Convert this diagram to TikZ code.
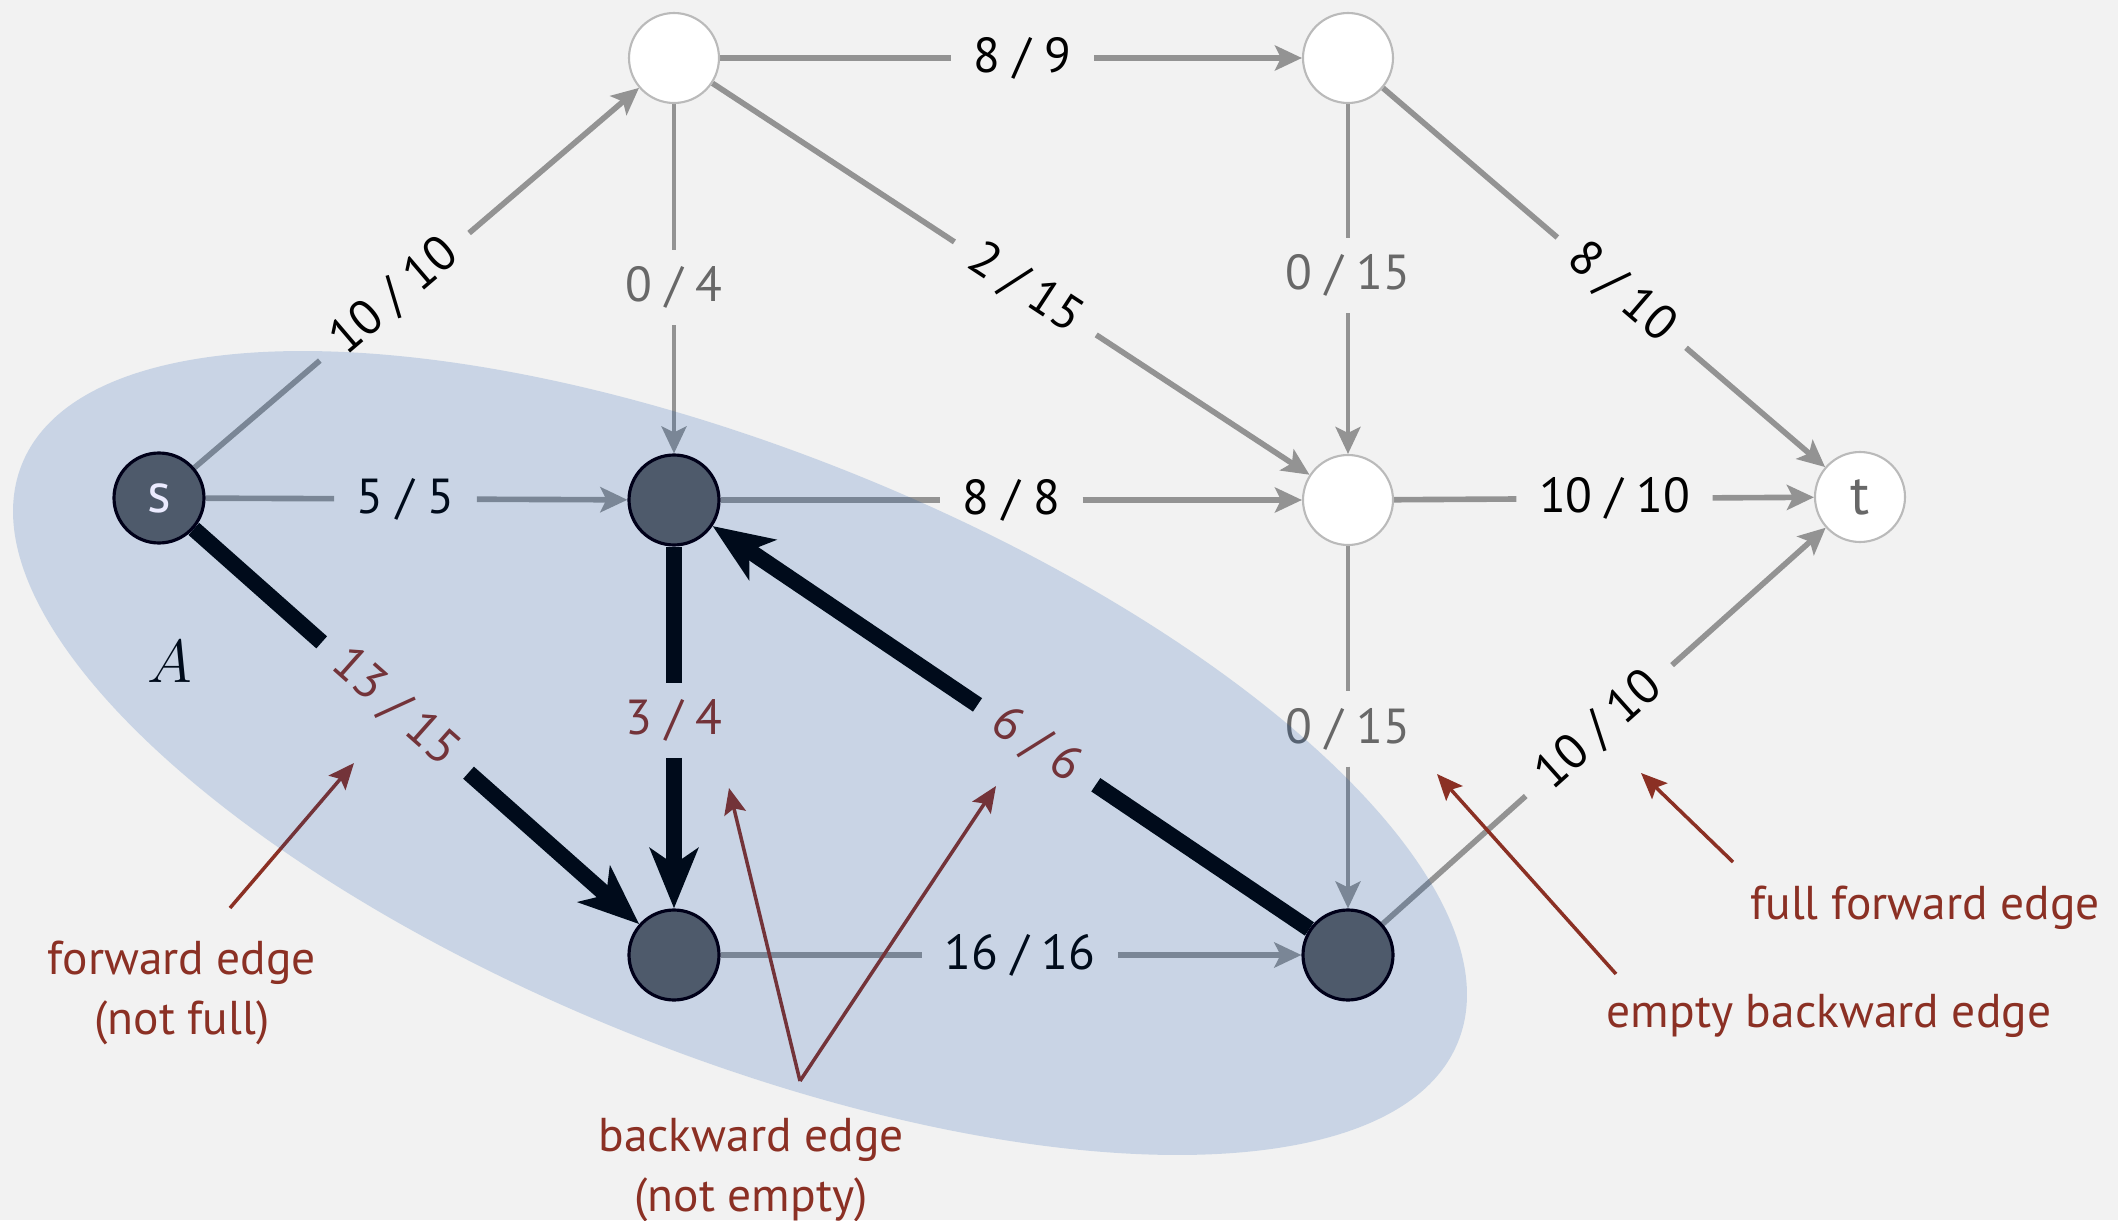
\documentclass[tikz,border=0pt]{standalone}
\usepackage{fontspec}
\setmainfont{PT Sans}
\usetikzlibrary{arrows.meta}

\definecolor{bgc}{HTML}{F2F2F2}
\definecolor{edgec}{HTML}{939393}
\definecolor{labred}{HTML}{8B3024}
\definecolor{labgray}{HTML}{686868}
\definecolor{darknode}{HTML}{4E5A6B}
\definecolor{cutblue}{RGB}{0,70,165}

\pgfdeclarelayer{bg}
\pgfdeclarelayer{shade}
\pgfdeclarelayer{fg}
\pgfsetlayers{bg,main,shade,fg}

\tikzset{
  vwhite/.style={circle, draw=black!27, fill=white, line width=0.6pt, minimum size=0.9cm, inner sep=0pt, text=labgray},
  vdark/.style={circle, draw=black!90!blue, fill=darknode, line width=0.9pt, minimum size=0.9cm, inner sep=0pt, text=blue!8!white},
  elab/.style={inner xsep=0.22cm, inner ysep=0.16cm, font=\fontsize{14}{16}\selectfont},
  flowline/.style={draw=edgec},
  gtip/.style={-{Stealth[length=2.7mm, width=2.5mm, inset=0.6mm]}},
  heavy/.style={draw=black, line width=4.6pt},
  heavytip/.style={-{Stealth[length=6mm, width=4.8mm, inset=1.6mm]}},
  note/.style={text=labred, align=center, font=\fontsize{13.5}{17}\selectfont},
  pointer/.style={draw=labred, line width=1pt, -{Stealth[length=2.6mm, width=2.2mm, inset=0.5mm]}},
}

\begin{document}
\begin{tikzpicture}
 \useasboundingbox (0,0) rectangle (21.18,12.2);
 \begin{pgfonlayer}{bg}
  \fill[bgc] (0,0) rectangle (21.18,12.2);
 \end{pgfonlayer}

 %vertices
 \begin{pgfonlayer}{fg}
  \node[vdark] (s) at (1.59,7.22) {\fontsize{16}{18}\selectfont s};
  \node[vwhite] (T1) at (6.74,11.62) {};
  \node[vwhite] (T2) at (13.48,11.62) {};
  \node[vdark] (M1) at (6.74,7.20) {};
  \node[vwhite] (M2) at (13.48,7.20) {};
  \node[vwhite] (t) at (18.60,7.23) {\fontsize{16}{18}\selectfont t};
  \node[vdark] (B1) at (6.74,2.65) {};
  \node[vdark] (B2) at (13.48,2.65) {};
 \end{pgfonlayer}

 %edges, label upright
 \foreach \a/\b/\p/\fl/\cp/\col/\w in {T1/T2/0.52/8/9/black/1.6, T1/M1/0.525/0/4/labgray/1.2,
     T2/M2/0.49/0/15/labgray/1.2, s/M1/0.474/5/5/black/1.6, M1/M2/0.50/8/8/black/1.6,
     M2/t/0.525/10/10/black/1.6, B1/B2/0.515/16/16/black/1.6, M2/B2/0.505/0/15/labgray/1.2} {
   \path (\a) -- node[elab, pos=\p, text=\col] (L\a\b) {\fl\ /\ \cp} (\b);
   \draw[flowline, line width=\w pt] (\a) -- (L\a\b);
   \draw[flowline, line width=\w pt, gtip] (L\a\b) -- (\b);
 }

 %edges, label along the edge
 \foreach \a/\b/\p/\fl/\cp in {s/T1/0.45/10/10, T1/M2/0.524/2/15, T2/t/0.54/8/10, B2/t/0.488/10/10} {
   \path (\a) -- node[elab, pos=\p, sloped] (L\a\b) {\fl\ /\ \cp} (\b);
   \draw[flowline, line width=1.6pt] (\a) -- (L\a\b);
   \draw[flowline, line width=1.6pt, gtip] (L\a\b) -- (\b);
 }

 %augmenting path
 \foreach \a/\b/\p/\fl/\cp/\sl in {s/B1/0.452/13/15/sloped, M1/B1/0.48/3/4/, B2/M1/0.457/6/6/sloped} {
   \path (\a) -- node[elab, pos=\p, \sl, text=labred] (L\a\b) {\fl\ /\ \cp} (\b);
   \draw[heavy] (\a) -- (L\a\b);
   \draw[heavy, heavytip] (L\a\b) -- (\b);
 }

 %cut
 \node (cutA) at (1.70,5.58) {\fontsize{17}{20}\selectfont $A$};
 \begin{pgfonlayer}{shade}
  \fill[cutblue, fill opacity=0.17, shift={(7.40,4.67)}, rotate=-21.9] (0,0) ellipse (7.74 and 3.015);
 \end{pgfonlayer}

 %notes
 \node[note] (nfwd) at (1.82,2.27) {forward edge\\(not full)};
 \node[note] (nback) at (7.51,0.50) {backward edge\\(not empty)};
 \node[note] (nempty) at (18.29,2.04) {empty backward edge};
 \node[note] (nfull) at (19.25,3.12) {full forward edge};

 \coordinate (pfwd) at (2.30,3.12);
 \coordinate (hfwd) at (3.54,4.57);
 \coordinate (pback) at (8.00,1.39);
 \coordinate (hback1) at (7.29,4.32);
 \coordinate (hback2) at (9.96,4.34);
 \coordinate (pempty) at (16.16,2.46);
 \coordinate (hempty) at (14.37,4.46);
 \coordinate (pfull) at (17.33,3.58);
 \coordinate (hfull) at (16.41,4.47);

 \draw[pointer] (pfwd) -- (hfwd);
 \draw[pointer] (pback) -- (hback1);
 \draw[pointer] (pback) -- (hback2);
 \draw[pointer] (pempty) -- (hempty);
 \draw[pointer] (pfull) -- (hfull);
\end{tikzpicture}
\end{document}
